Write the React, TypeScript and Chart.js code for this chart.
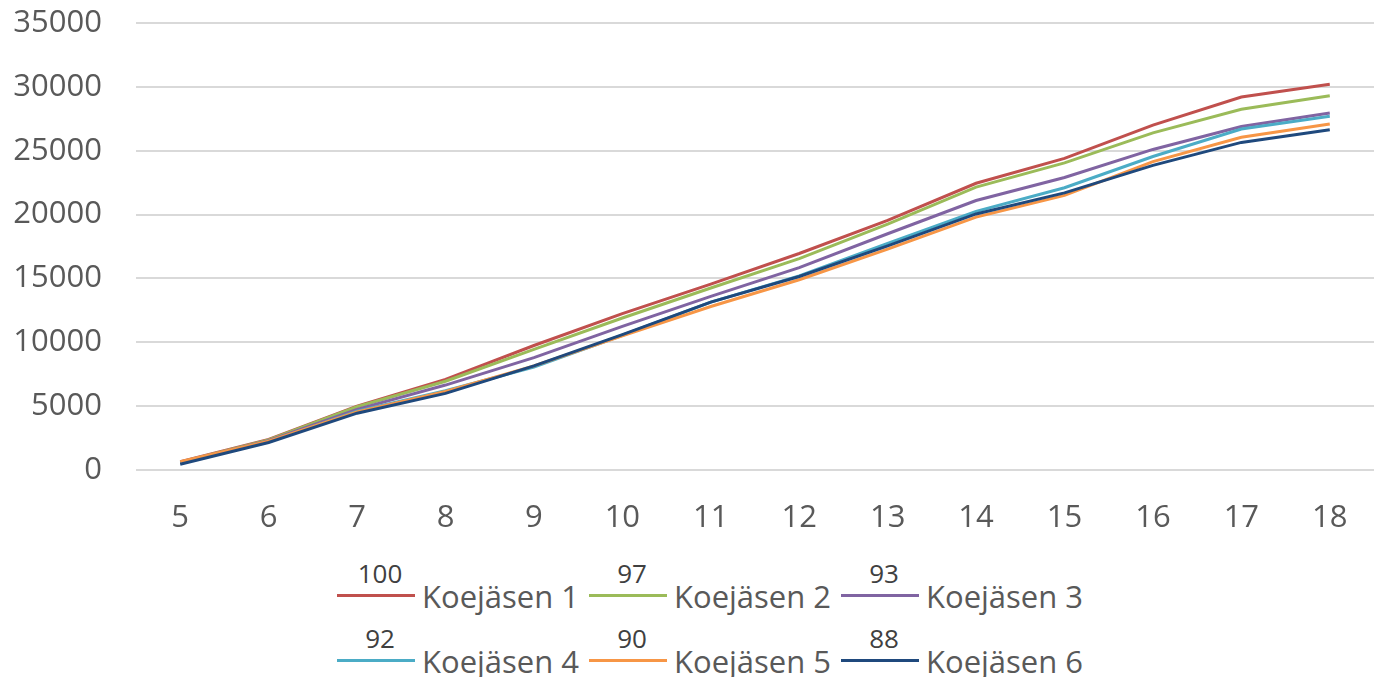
import React, { useEffect, useRef } from "react";
import { Chart, registerables } from "chart.js";

Chart.register(...registerables);

const categories = ["5", "6", "7", "8", "9", "10", "11", "12", "13", "14", "15", "16", "17", "18"];
const seriesNames = ["Koejäsen 1", "Koejäsen 2", "Koejäsen 3", "Koejäsen 4", "Koejäsen 5", "Koejäsen 6"];
const legendNumbers = ["100", "97", "93", "92", "90", "88"];
const seriesColors = ["#C0504D", "#9BBB59", "#8064A2", "#4BACC6", "#F79646", "#1F497D"];

const series1 = [650, 2400, 5000, 7100, 9750, 12250, 14550, 16950, 19550, 22450, 24400, 27000, 29200, 30200];
const series2 = [620, 2350, 4950, 6950, 9450, 11900, 14250, 16550, 19250, 22150, 24050, 26400, 28250, 29300];
const series3 = [600, 2300, 4750, 6650, 8800, 11250, 13600, 15850, 18500, 21100, 22900, 25100, 26900, 27950];
const series4 = [550, 2200, 4600, 6200, 8050, 10550, 13150, 15200, 17750, 20250, 22100, 24550, 26700, 27700];
const series5 = [650, 2250, 4550, 6150, 8150, 10500, 12800, 14900, 17300, 19800, 21500, 24150, 26050, 27100];
const series6 = [450, 2150, 4450, 6000, 8150, 10600, 13150, 15150, 17550, 20050, 21700, 23850, 25650, 26650];
const allSeries = [series1, series2, series3, series4, series5, series6];

const yMin = 0;
const yMax = 35000;
const yStep = 5000;

const FONT = "'Open Sans', 'Liberation Sans', sans-serif";
const TEXT = "#595959";

export default function App() {
  const ref = useRef<HTMLCanvasElement | null>(null);

  useEffect(() => {
    document.body.style.margin = "0";
    document.body.style.overflow = "hidden";
    if (!ref.current) return;
    const chart = new Chart(ref.current, {
      type: "line",
      data: {
        labels: categories,
        datasets: allSeries.map((d, i) => ({
          label: seriesNames[i],
          data: d,
          borderColor: seriesColors[i],
          backgroundColor: seriesColors[i],
          borderWidth: 3,
          pointRadius: 0,
          tension: 0,
          fill: false,
          order: allSeries.length - i,
        })),
      },
      options: {
        animation: false,
        responsive: false,
        maintainAspectRatio: false,
        layout: { padding: 0 },
        plugins: {
          legend: { display: false },
          tooltip: { enabled: false },
        },
        scales: {
          x: {
            offset: true,
            grid: { display: false },
            border: { display: false },
            ticks: { color: TEXT, font: { family: FONT, size: 31 }, padding: 22 },
            afterFit: (s: any) => {
              s.height = 75;
              s.paddingLeft = 0;
              s.paddingRight = 0;
            },
          },
          y: {
            min: yMin,
            max: yMax,
            grid: { color: "#d9d9d9", lineWidth: 2, drawTicks: false },
            border: { display: false },
            ticks: {
              stepSize: yStep,
              color: TEXT,
              font: { family: FONT, size: 31 },
              padding: 34,
              callback: (v: any) => String(v),
            },
            afterFit: (s: any) => {
              s.width = 136;
              s.paddingTop = 23;
              s.paddingBottom = 0;
            },
          },
        },
      },
    });
    return () => chart.destroy();
  }, []);

  return (
    <div style={{ position: "relative", width: 1374, height: 677, overflow: "hidden" }}>
      <canvas ref={ref} width={1374} height={545} style={{ display: "block" }} />
      {seriesNames.map((name, i) => {
        const col = i % 3;
        const row = Math.floor(i / 3);
        const left = 337 + col * 252;
        const top = 560 + row * 65;
        return (
          <div key={name} style={{ position: "absolute", left, top, height: 60, width: 250 }}>
            <div
              style={{
                position: "absolute",
                left: 0,
                width: 86,
                top: -2,
                textAlign: "center",
                font: `26px ${FONT}`,
                color: "#404040",
                lineHeight: "30px",
              }}
            >
              {legendNumbers[i]}
            </div>
            <div
              style={{
                position: "absolute",
                left: 0,
                top: 34,
                width: 78,
                height: 3,
                background: seriesColors[i],
              }}
            />
            <div
              style={{
                position: "absolute",
                left: 85,
                top: 16,
                font: `31px ${FONT}`,
                color: TEXT,
                lineHeight: "40px",
                whiteSpace: "nowrap",
              }}
            >
              {name}
            </div>
          </div>
        );
      })}
    </div>
  );
}
